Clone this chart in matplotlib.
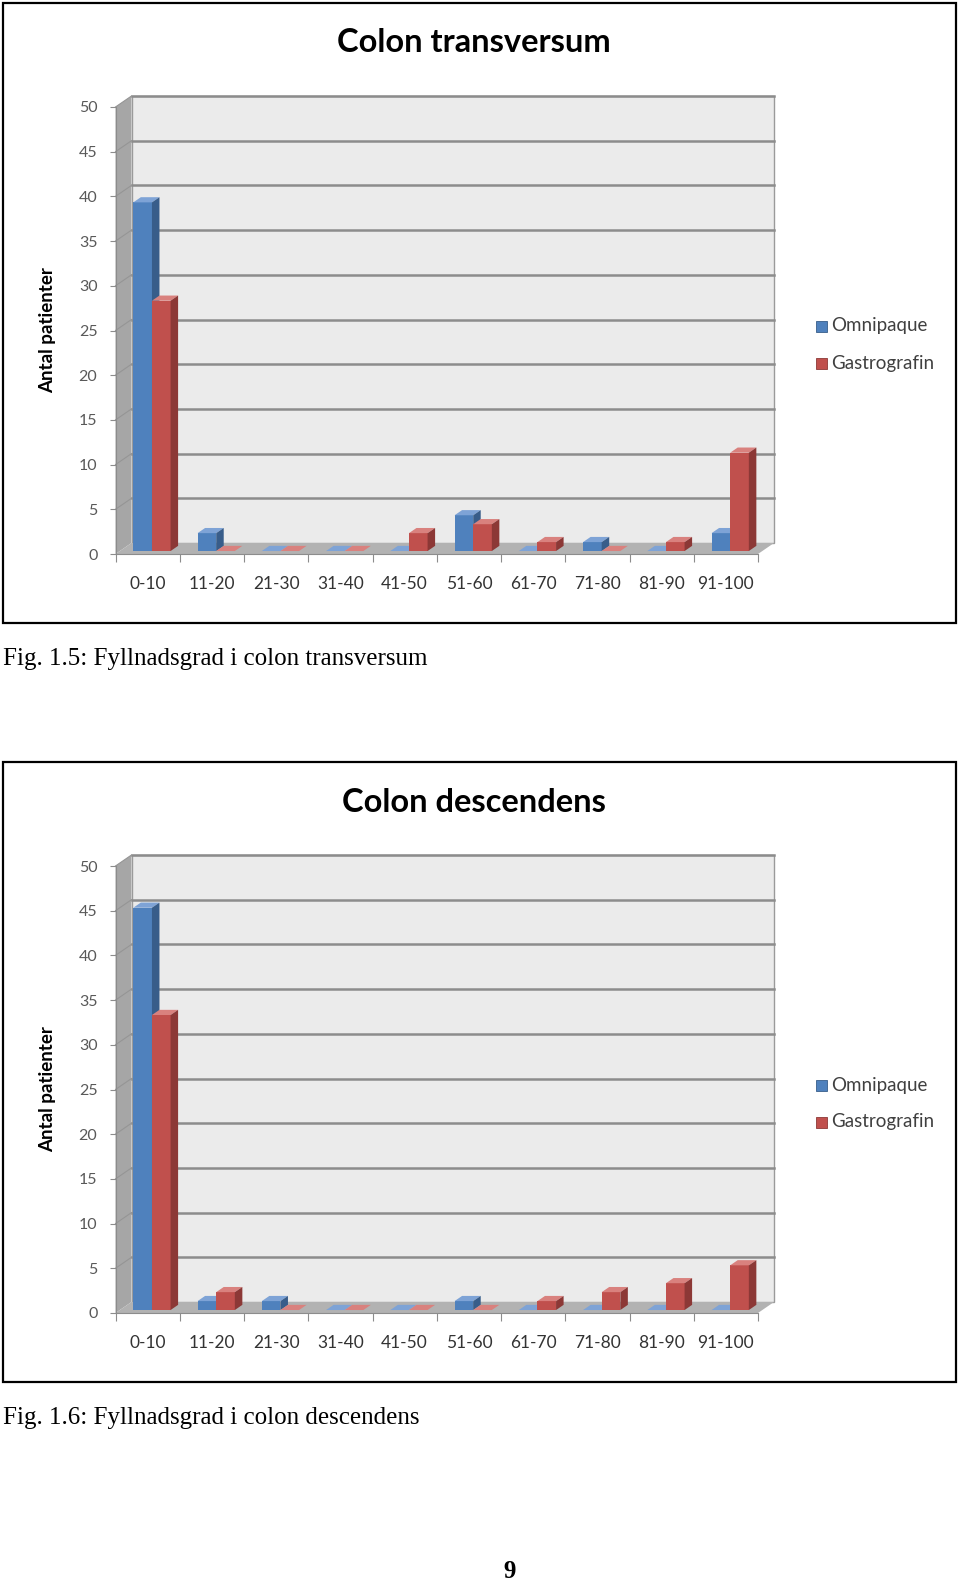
import matplotlib
matplotlib.use("Agg")
import matplotlib.pyplot as plt
from matplotlib.patches import Polygon, Rectangle

categories = ["0-10", "11-20", "21-30", "31-40", "41-50",
              "51-60", "61-70", "71-80", "81-90", "91-100"]
series_names = ["Omnipaque", "Gastrografin"]

transversum_omnipaque = [39, 2, 0, 0, 0, 4, 0, 1, 0, 2]
transversum_gastrografin = [28, 0, 0, 0, 2, 3, 1, 0, 1, 11]
descendens_omnipaque = [45, 1, 1, 0, 0, 1, 0, 0, 0, 0]
descendens_gastrografin = [33, 2, 0, 0, 0, 0, 1, 2, 3, 5]

yticks = list(range(0, 51, 5))

W, H = 960, 1585
FACE = {"blue": ("#4f81bd", "#7ea3d6", "#385d8a"),
        "red": ("#c0504d", "#d9817e", "#8c3836")}


def px_rect(left, top, right, bottom):
    return [left / W, 1 - bottom / H, (right - left) / W, (bottom - top) / H]


def poly(ax, pts, color, z, ec="none", lw=0):
    ax.add_patch(Polygon(pts, closed=True, facecolor=color, edgecolor=ec,
                         linewidth=lw, clip_on=False, zorder=z))


def bar3d(ax, x0, x1, h, dx, dy, z0, z1, colors, z):
    front, top, side = colors
    a0, b0 = z0 * dx, z0 * dy
    a1, b1 = z1 * dx, z1 * dy
    poly(ax, [(x0 + a0, b0), (x1 + a0, b0), (x1 + a0, h + b0), (x0 + a0, h + b0)], front, z)
    poly(ax, [(x0 + a0, h + b0), (x1 + a0, h + b0), (x1 + a1, h + b1), (x0 + a1, h + b1)], top, z)
    poly(ax, [(x1 + a0, b0), (x1 + a1, b1), (x1 + a1, h + b1), (x1 + a0, h + b0)], side, z)


def draw_chart(fig, off, title, omni, gastro):
    ax = fig.add_axes(px_rect(115.5, 107 + off, 758, 554 + off))
    ax.set_xlim(0, 10)
    ax.set_ylim(0, 50)
    ax.patch.set_alpha(0)
    n = len(categories)
    dx, dy = 16 / 64.25, 11 / 8.94

    # walls and floor
    poly(ax, [(dx, dy), (n + dx, dy), (n + dx, 50 + dy), (dx, 50 + dy)], "#ebebeb", 1,
         ec="#9a9a9a", lw=1)
    poly(ax, [(0, 0), (dx, dy), (dx, 50 + dy), (0, 50)], "#a6a6a6", 1)
    poly(ax, [(0, 0), (n, 0), (n + dx, dy), (dx, dy)], "#b2b2b2", 2)
    for t in yticks[1:]:
        ax.plot([dx, n + dx], [t + dy, t + dy], color="#8c8c8c", lw=1.8,
                clip_on=False, zorder=1.5)
        ax.plot([0, dx], [t, t + dy], color="#959595", lw=0.8, clip_on=False, zorder=1.5)

    for i in range(n):
        bar3d(ax, i + 0.21, i + 0.5, omni[i], dx, dy, 0.27, 0.74, FACE["blue"], 3 + i * 0.1)
        bar3d(ax, i + 0.5, i + 0.79, gastro[i], dx, dy, 0.27, 0.74, FACE["red"], 3.05 + i * 0.1)

    for s in ["top", "right"]:
        ax.spines[s].set_visible(False)
    for s in ["left", "bottom"]:
        ax.spines[s].set_color("#8c8c8c")
        ax.spines[s].set_zorder(5)
    ax.set_yticks(yticks)
    ax.set_yticklabels([str(t) for t in yticks], fontsize=11.5, color="#595959",
                       family="Lato")
    ax.set_xticks(range(n + 1))
    ax.set_xticklabels([])
    ax.set_xticks([i + 0.5 for i in range(n)], minor=True)
    ax.set_xticklabels(categories, minor=True, fontsize=12.5, color="#333333",
                       family="Lato")
    ax.tick_params(axis="y", length=4, color="#8c8c8c", pad=9)
    ax.tick_params(axis="x", which="major", length=6, color="#8c8c8c")
    ax.tick_params(axis="x", which="minor", length=0, pad=16)

    fig.text(474 / W, 1 - (43 + off) / H, title, ha="center", va="center",
             fontsize=23.5, fontweight="bold", family="Lato")
    fig.text(48 / W, 1 - (330 + off) / H, "Antal patienter", rotation=90,
             ha="center", va="center", fontsize=13.5, fontweight="bold", family="Lato")

    for k, (name, col) in enumerate(zip(series_names, ["blue", "red"])):
        yy = 326 + k * 37 + off
        fig.patches.append(Rectangle((816 / W, 1 - (yy + 5.5) / H), 11 / W, 11 / H,
                                     transform=fig.transFigure, facecolor=FACE[col][0],
                                     edgecolor=FACE[col][2], lw=0.6))
        fig.text(831 / W, 1 - yy / H, name, ha="left", va="center",
                 fontsize=13.5, color="#404040", family="Lato")

    fig.patches.append(Rectangle((3 / W, 1 - (623 + off) / H), 953 / W, 620 / H,
                                 transform=fig.transFigure, fill=False,
                                 edgecolor="black", lw=1.6))


fig = plt.figure(figsize=(9.6, 15.85), dpi=100)
draw_chart(fig, 0, "Colon transversum", transversum_omnipaque, transversum_gastrografin)
draw_chart(fig, 759, "Colon descendens", descendens_omnipaque, descendens_gastrografin)

fig.text(3 / W, 1 - 659 / H, "Fig. 1.5: Fyllnadsgrad i colon transversum",
         ha="left", va="center", fontsize=18, family="Liberation Serif")
fig.text(3 / W, 1 - 1418 / H, "Fig. 1.6: Fyllnadsgrad i colon descendens",
         ha="left", va="center", fontsize=18, family="Liberation Serif")
fig.text(510 / W, 1 - 1571 / H, "9", ha="center", va="center",
         fontsize=18, fontweight="bold", family="Liberation Serif")

fig.savefig("out.png", dpi=100)
